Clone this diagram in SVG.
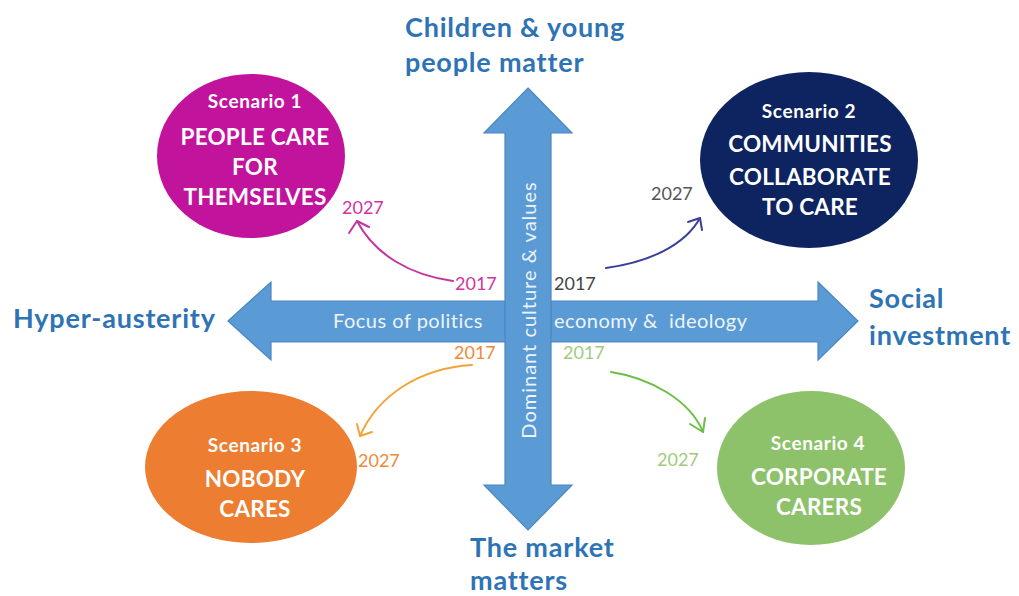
<svg xmlns="http://www.w3.org/2000/svg" width="1019" height="596" viewBox="0 0 1019 596">
  <defs>
    <style>
      .axis { font-family: Lato, "Liberation Sans", sans-serif; font-weight: bold; fill: #2E74B5; font-size: 27px; letter-spacing: 0.8px; }
      .scen { font-family: Lato, "Liberation Sans", sans-serif; font-weight: bold; fill: #ffffff; text-anchor: middle; }
      .sub { font-size: 19px; letter-spacing: 0.6px; }
      .ttl { font-size: 22.5px; letter-spacing: 0.2px; }
      .yr { font-family: Lato, "Liberation Sans", sans-serif; font-size: 18px; }
      .inner { font-family: Lato, "Liberation Sans", sans-serif; font-size: 20px; letter-spacing: 0.5px; fill: #EEF4FB; white-space: pre; }
      .arrowbody { fill: #5B9BD5; stroke: #4A86C2; stroke-width: 1.2; }
      .curve { fill: none; stroke-width: 2; stroke-linecap: round; stroke-linejoin: round; }
    </style>
  </defs>

  <rect width="1019" height="596" fill="#ffffff"/>

  <!-- axis arrows -->
  <g id="axes">
    <polygon class="arrowbody" points="228,321 271,282 271,301 818,301 818,282 858,321 818,360 818,342 271,342 271,360"/>
    <polygon class="arrowbody" points="528,88 572,133 551,133 551,485 572,485 528,530 484,485 505,485 505,133 484,133"/>
    <text class="inner" x="333" y="328">Focus of politics</text>
    <text class="inner" x="554" y="328" xml:space="preserve">economy &amp;  ideology</text>
    <text class="inner" transform="translate(536,310) rotate(-90)" text-anchor="middle" style="letter-spacing:1px">Dominant culture &amp; values</text>
  </g>

  <!-- axis labels -->
  <g id="axis-labels">
    <text class="axis" x="405" y="37">Children &amp; young</text>
    <text class="axis" x="405" y="72">people matter</text>
    <text class="axis" x="13" y="328">Hyper-austerity</text>
    <text class="axis" x="869" y="308">Social</text>
    <text class="axis" x="869" y="345">investment</text>
    <text class="axis" x="470" y="557">The market</text>
    <text class="axis" x="470" y="590">matters</text>
  </g>

  <!-- scenario nodes -->
  <g id="scenario1">
    <ellipse cx="251" cy="156" rx="94" ry="82" fill="#C2139D"/>
    <text class="scen sub" x="255" y="108">Scenario 1</text>
    <text class="scen ttl" x="255" y="145">PEOPLE CARE</text>
    <text class="scen ttl" x="255" y="175">FOR</text>
    <text class="scen ttl" x="255" y="205">THEMSELVES</text>
  </g>
  <g id="scenario2">
    <ellipse cx="809" cy="160" rx="109" ry="88" fill="#0E2461"/>
    <text class="scen sub" x="809" y="118">Scenario 2</text>
    <text class="scen ttl" x="810" y="152">COMMUNITIES</text>
    <text class="scen ttl" x="810" y="185">COLLABORATE</text>
    <text class="scen ttl" x="810" y="215">TO CARE</text>
  </g>
  <g id="scenario3">
    <ellipse cx="251" cy="467" rx="106" ry="76" fill="#ED7D31"/>
    <text class="scen sub" x="255" y="452">Scenario 3</text>
    <text class="scen ttl" x="255" y="487">NOBODY</text>
    <text class="scen ttl" x="255" y="517">CARES</text>
  </g>
  <g id="scenario4">
    <ellipse cx="811" cy="468" rx="94" ry="77" fill="#8DC26B"/>
    <text class="scen sub" x="818" y="450">Scenario 4</text>
    <text class="scen ttl" x="819" y="485">CORPORATE</text>
    <text class="scen ttl" x="819" y="515">CARERS</text>
  </g>

  <!-- year labels -->
  <g id="years">
    <text class="yr" x="455" y="290" fill="#D0359F">2017</text>
    <text class="yr" x="554" y="290" fill="#444444">2017</text>
    <text class="yr" x="454" y="359" fill="#EE8A3A">2017</text>
    <text class="yr" x="563" y="359" fill="#9FCB80">2017</text>
    <text class="yr" x="342" y="214" fill="#D0359F">2027</text>
    <text class="yr" x="651" y="200" fill="#555555">2027</text>
    <text class="yr" x="358" y="467" fill="#EE8A3A">2027</text>
    <text class="yr" x="657" y="466" fill="#9FCB80">2027</text>
  </g>

  <!-- transition connectors -->
  <g id="connectors">
    <path class="curve" stroke="#C4369F" d="M453,281 C410,275 375,255 357,221"/>
    <path class="curve" stroke="#C4369F" d="M349,233 L357,221 L369,227"/>
    <path class="curve" stroke="#3B3F98" d="M606,268 C650,262 685,245 700,218"/>
    <path class="curve" stroke="#3B3F98" d="M688,222 L700,218 L702,230"/>
    <path class="curve" stroke="#F2A33A" d="M472,365 C420,368 378,395 360,436"/>
    <path class="curve" stroke="#F2A33A" d="M357,424 L360,436 L372,432"/>
    <path class="curve" stroke="#6BBF45" d="M611,372 C650,378 690,400 703,432"/>
    <path class="curve" stroke="#6BBF45" d="M690,424 L703,432 L705,418"/>
  </g>
</svg>
